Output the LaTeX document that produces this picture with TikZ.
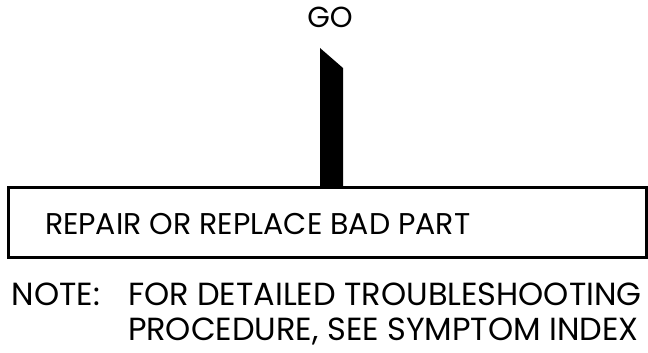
\documentclass[tikz,border=0pt]{standalone}
\usepackage{fontspec}
\setmainfont{Poppins}
\begin{document}
\begin{tikzpicture}[x=1pt,y=1pt,
  lbl/.style={inner sep=0pt,outer sep=0pt,font=\fontsize{30}{30}\selectfont},
  notelbl/.style={inner sep=0pt,outer sep=0pt,font=\fontsize{32}{32}\selectfont},
  golbl/.style={inner sep=0pt,outer sep=0pt,font=\fontsize{29}{29}\selectfont}]
\useasboundingbox (0,0) rectangle (648,353);
\node[golbl,anchor=base] (go) at (330,325) {GO};
\draw[line width=3pt] (8,95) rectangle (646,165.5);
\node[lbl,anchor=base west] (repair) at (45,118) {REPAIR OR REPLACE BAD PART};
\coordinate (stemtl) at (320,305);
\fill (stemtl) -- (343,285) -- (343,165.5) -- (320,165.5) -- cycle;
\node[notelbl,anchor=base west] (note) at (12,47) {NOTE:};
\node[notelbl,anchor=base west] (l1) at (128,47) {FOR DETAILED TROUBLESHOOTING};
\node[notelbl,anchor=base west] (l2) at (128,12) {PROCEDURE, SEE SYMPTOM INDEX};
\end{tikzpicture}
\end{document}
